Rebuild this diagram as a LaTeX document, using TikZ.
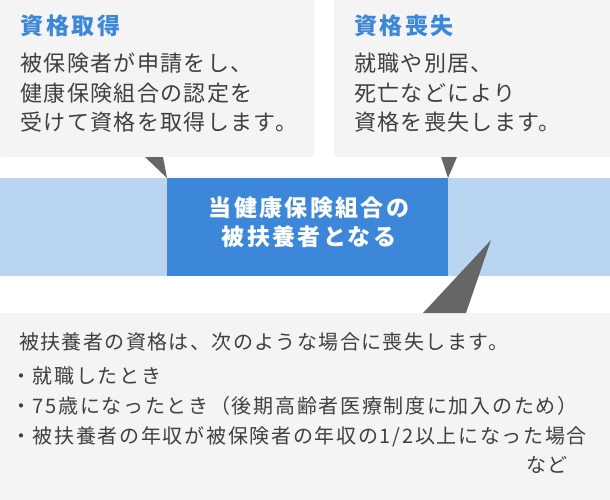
\documentclass[tikz,border=0pt]{standalone}
\usepackage{fontspec}
\newfontfamily\jp{Noto Sans CJK JP}
\definecolor{boxgray}{HTML}{F4F4F4}
\definecolor{bandlight}{HTML}{BAD5F1}
\definecolor{banddark}{HTML}{3D87DB}
\definecolor{titleblue}{HTML}{3D87DB}
\definecolor{txt}{HTML}{404040}
\definecolor{ptr}{HTML}{666666}
\begin{document}
\begin{tikzpicture}[x=1pt,y=-1pt,
  panel/.style={fill=boxgray,rounded corners=3pt},
  pointer/.style={fill=ptr},
  ttl/.style={anchor=west,inner sep=0pt,text height=0.88em,text depth=0.12em,text=titleblue,
    font=\jp\fontsize{23}{23}\selectfont\bfseries\addfontfeature{LetterSpace=11}},
  body/.style={anchor=west,inner sep=0pt,text height=0.88em,text depth=0.12em,text=txt,
    font=\jp\fontsize{22}{22}\selectfont\addfontfeature{LetterSpace=6}},
  mid/.style={inner sep=0pt,text height=0.88em,text depth=0.12em,text=white,
    font=\jp\fontsize{23}{23}\selectfont\bfseries\addfontfeature{LetterSpace=10}},
  small/.style={anchor=west,inner sep=0pt,text height=0.88em,text depth=0.12em,text=txt,
    font=\jp\fontsize{20}{20}\selectfont\addfontfeature{LetterSpace=7}},
  item/.style={small,font=\jp\fontsize{20}{20}\selectfont\addfontfeature{LetterSpace=8.5}},
  bullet/.style={inner sep=0pt,text height=0.88em,text depth=0.12em,text=txt,
    font=\jp\fontsize{20}{20}\selectfont}]
\useasboundingbox (0,0) rectangle (610,499);
\fill[white] (0,0) rectangle (610,499);
% panels
\path[panel] (0,-5) rectangle (314,157);
\path[panel] (334,-5) rectangle (615,157);
\path[panel] (-5,313) rectangle (615,505);
% band
\fill[bandlight] (0,178) rectangle (610,276);
\node[fill=banddark,minimum width=281pt,minimum height=98pt,inner sep=0pt,anchor=north west] (core) at (167,178) {};
% pointers
\coordinate (p1a) at (145,157); \coordinate (p1b) at (163,157); \coordinate (p1c) at (167,178);
\fill[pointer] (p1a) -- (p1b) -- (p1c) -- cycle;
\coordinate (p2a) at (441,157); \coordinate (p2b) at (457,157); \coordinate (p2c) at (448,178);
\fill[pointer] (p2a) -- (p2b) -- (p2c) -- cycle;
\coordinate (p3a) at (491,240); \coordinate (p3b) at (466,313); \coordinate (p3c) at (423,313);
\fill[pointer] (p3a) -- (p3b) -- (p3c) -- cycle;
% top-left texts
\node[ttl] (t1) at (20.5,31) {資格取得};
\node[body] (b11) at (20.5,68) {被保険者が申請をし、};
\node[body] (b12) at (20.5,97.5) {健康保険組合の認定を};
\node[body] (b13) at (20.5,127) {受けて資格を取得します。};
% top-right texts
\node[ttl] (t2) at (354,31) {資格喪失};
\node[body] (b21) at (354,68) {就職や別居、};
\node[body] (b22) at (354,97.5) {死亡などにより};
\node[body] (b23) at (354,127) {資格を喪失します。};
% middle
\node[mid] (m1) at (309,212.5) {当健康保険組合の};
\node[mid] (m2) at (309,241.5) {被扶養者となる};
% bottom
\node[small] (s0) at (19,346) {被扶養者の資格は、次のような場合に喪失します。};
\node[bullet] (d1) at (22,380) {・};
\node[item] (s1) at (32.5,380) {就職したとき};
\node[bullet] (d2) at (22,410) {・};
\node[item] (s2) at (32.5,410) {75歳になったとき（後期高齢者医療制度に加入のため）};
\node[bullet] (d3) at (22,440) {・};
\node[item] (s3) at (32.5,440) {被扶養者の年収が被保険者の年収の1/2以上になった場合};
\node[item] (s4) at (526,469) {など};
\end{tikzpicture}
\end{document}
